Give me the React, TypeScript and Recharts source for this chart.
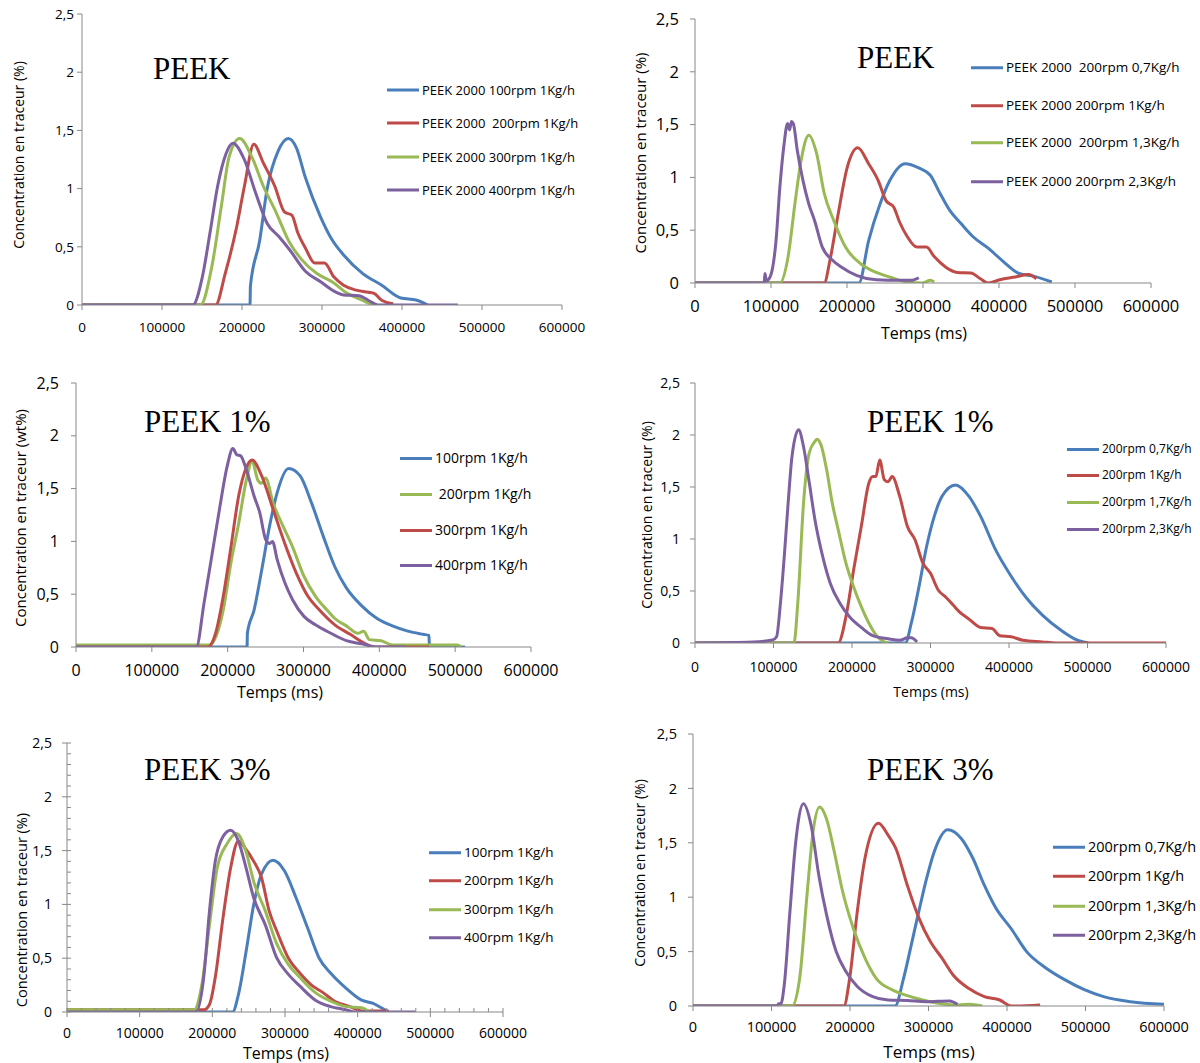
import React from 'react'
import { LineChart, Line, XAxis, YAxis } from 'recharts'

type Pt = [number, number]

const BLUE = '#4A7EBB'
const RED = '#BE4B48'
const GREEN = '#98B954'
const PURPLE = '#7D60A0'
const AXIS = '#888888'
const FONT = '"Open Sans", sans-serif'

const X_TICKS = [0, 100000, 200000, 300000, 400000, 500000, 600000]
const Y_TICKS = [0, 0.5, 1, 1.5, 2, 2.5]
const MINOR_X = [0, 20000, 40000, 60000, 80000, 100000, 120000, 140000, 160000, 180000, 200000, 220000, 240000, 260000, 280000, 300000, 320000, 340000, 360000, 380000, 400000, 420000, 440000, 460000, 480000, 500000, 520000, 540000, 560000, 580000, 600000]
const MINOR_Y = [0, 0.1, 0.2, 0.3, 0.4, 0.5, 0.6, 0.7, 0.8, 0.9, 1, 1.1, 1.2, 1.3, 1.4, 1.5, 1.6, 1.7, 1.8, 1.9, 2, 2.1, 2.2, 2.3, 2.4, 2.5]

const Y_LABEL = 'Concentration en traceur (%)'
const Y_LABEL_WT = 'Concentration en traceur (wt%)'
const X_LABEL = 'Temps (ms)'

// PEEK, 1 kg/h, screw speed
const P1_NAMES = ['PEEK 2000 100rpm 1Kg/h', 'PEEK 2000  200rpm 1Kg/h', 'PEEK 2000 300rpm 1Kg/h', 'PEEK 2000 400rpm 1Kg/h']
const P1_BLUE: Pt[] = [[0, 0], [210000, 0], [210500, 0.16], [222000, 0.55], [231500, 1.0], [245000, 1.32], [258000, 1.43], [268000, 1.35], [279000, 1.1], [298000, 0.76], [312600, 0.56], [327000, 0.43], [351000, 0.27], [374700, 0.17], [398600, 0.06], [417700, 0.043], [432000, 0]]
const P1_RED: Pt[] = [[0, 0], [167000, 0], [179000, 0.27], [193300, 0.67], [203000, 1.02], [214800, 1.38], [226700, 1.22], [241000, 1.02], [253000, 0.8], [262500, 0.77], [269700, 0.62], [279200, 0.49], [291000, 0.36], [303000, 0.36], [315000, 0.24], [327000, 0.17], [341300, 0.13], [358000, 0.11], [365000, 0.1], [374700, 0.04], [389000, 0.01]]
const P1_GREEN: Pt[] = [[0, 0], [148000, 0], [162300, 0.33], [174200, 0.85], [183800, 1.27], [197100, 1.43], [212400, 1.27], [226700, 1.02], [241000, 0.82], [260000, 0.53], [274600, 0.39], [293600, 0.27], [312600, 0.2], [331700, 0.1], [351000, 0.04], [362700, 0]]
const P1_PURPLE: Pt[] = [[0, 0], [138500, 0], [150400, 0.24], [160000, 0.62], [169500, 1.02], [180000, 1.3], [188600, 1.39], [202900, 1.25], [217200, 0.96], [231500, 0.7], [245800, 0.59], [260000, 0.47], [279200, 0.29], [298300, 0.2], [317400, 0.11], [327000, 0.086], [346000, 0.08], [360400, 0.03], [370000, 0], [470000, 0]]

// PEEK, 200 rpm, feed rate
const P2_NAMES = ['PEEK 2000  200rpm 0,7Kg/h', 'PEEK 2000 200rpm 1Kg/h', 'PEEK 2000  200rpm 1,3Kg/h', 'PEEK 2000 200rpm 2,3Kg/h']
const P2_BLUE: Pt[] = [[0, 0], [215700, 0], [228400, 0.4], [243600, 0.75], [256300, 0.97], [276600, 1.13], [294400, 1.09], [309600, 1.02], [322300, 0.85], [335000, 0.69], [350300, 0.56], [365500, 0.44], [385800, 0.33], [406100, 0.2], [426400, 0.09], [446700, 0.063], [469500, 0.01]]
const P2_RED: Pt[] = [[0, 0], [170000, 0], [177700, 0.22], [187800, 0.63], [200500, 1.1], [214200, 1.28], [228400, 1.13], [241100, 0.97], [251300, 0.78], [261400, 0.72], [269000, 0.58], [279200, 0.44], [291900, 0.34], [304600, 0.34], [314700, 0.25], [330000, 0.15], [345200, 0.1], [363000, 0.095], [375600, 0.04], [385800, 0], [401000, 0.03], [421300, 0.057], [439100, 0.08], [449200, 0.04]]
const P2_GREEN: Pt[] = [[0, 0], [111700, 0], [121800, 0.22], [132000, 0.78], [139600, 1.16], [149700, 1.4], [159900, 1.23], [170000, 0.85], [182700, 0.59], [198000, 0.34], [218300, 0.18], [238600, 0.1], [258900, 0.05], [279200, 0.01], [299500, 0], [309600, 0.025], [314700, 0.01]]
const P2_PURPLE: Pt[] = [[0, 0], [91000, 0], [92000, 0.09], [94000, 0.02], [99000, 0.06], [106600, 0.4], [111700, 0.91], [116800, 1.29], [121800, 1.51], [124500, 1.45], [126900, 1.53], [129400, 1.51], [134500, 1.26], [142100, 0.97], [149700, 0.75], [157400, 0.59], [167500, 0.34], [180200, 0.22], [192900, 0.15], [213200, 0.07], [238600, 0.03], [269000, 0.025], [284300, 0.025], [294400, 0.05]]

// PEEK 1%, 1 kg/h, screw speed
const P3_NAMES = ['100rpm 1Kg/h', ' 200rpm 1Kg/h', '300rpm 1Kg/h', '400rpm 1Kg/h']
const P3_BLUE: Pt[] = [[0, 0], [225600, 0], [226000, 0.13], [234800, 0.35], [244900, 0.73], [255100, 1.14], [265200, 1.46], [280400, 1.69], [295600, 1.62], [310800, 1.36], [326000, 1.05], [341300, 0.76], [356500, 0.56], [376800, 0.39], [397000, 0.27], [417300, 0.2], [437600, 0.15], [457900, 0.12], [465500, 0.11], [466000, 0], [513000, 0]]
const P3_GREEN: Pt[] = [[0, 0.02], [176500, 0.02], [194200, 0.35], [204400, 0.8], [214500, 1.17], [224600, 1.58], [232200, 1.76], [239800, 1.58], [244900, 1.55], [250000, 1.6], [260100, 1.36], [275300, 1.11], [285400, 0.95], [300600, 0.67], [315800, 0.48], [331000, 0.35], [341300, 0.27], [356500, 0.2], [371700, 0.13], [379300, 0.15], [386900, 0.07], [402100, 0.06], [417300, 0.02], [503500, 0.02], [508000, 0]]
const P3_RED: Pt[] = [[0, 0], [174000, 0], [184100, 0.13], [194200, 0.48], [204400, 0.95], [214500, 1.43], [224600, 1.7], [232200, 1.77], [244900, 1.62], [260100, 1.3], [275300, 0.98], [290500, 0.7], [305800, 0.48], [321000, 0.35], [341300, 0.21], [361600, 0.12], [381800, 0.03], [392000, 0], [465500, 0]]
const P3_PURPLE: Pt[] = [[0, 0], [158700, 0], [168900, 0.42], [179000, 0.86], [189100, 1.3], [199300, 1.71], [206900, 1.88], [212000, 1.82], [217100, 1.81], [224600, 1.68], [234800, 1.43], [242400, 1.27], [250000, 1.02], [255100, 0.98], [259100, 1.0], [265200, 0.83], [275300, 0.61], [285400, 0.45], [300600, 0.29], [315800, 0.21], [336100, 0.13], [356500, 0.06], [376800, 0.03], [397000, 0], [435000, 0]]

// PEEK 1%, 200 rpm, feed rate
const P4_NAMES = ['200rpm 0,7Kg/h', '200rpm 1Kg/h', '200rpm 1,7Kg/h', '200rpm 2,3Kg/h']
const P4_BLUE: Pt[] = [[0, 0], [268000, 0], [275500, 0.19], [285300, 0.54], [295100, 0.93], [304900, 1.22], [314700, 1.41], [331900, 1.52], [349000, 1.41], [363700, 1.22], [383300, 0.89], [402900, 0.64], [422500, 0.43], [442200, 0.27], [466700, 0.12], [486300, 0.03], [501000, 0]]
const P4_RED: Pt[] = [[0, 0], [182400, 0], [192200, 0.25], [202000, 0.7], [211800, 1.12], [221600, 1.54], [226500, 1.6], [230400, 1.6], [235300, 1.76], [241200, 1.57], [246100, 1.55], [251000, 1.6], [260800, 1.41], [270600, 1.12], [280400, 0.99], [290200, 0.77], [300000, 0.67], [309800, 0.51], [319600, 0.44], [329400, 0.36], [336800, 0.3], [349000, 0.23], [363700, 0.15], [378400, 0.14], [388200, 0.07], [402900, 0.06], [417600, 0.026], [442200, 0.01], [460000, 0], [600000, 0]]
const P4_GREEN: Pt[] = [[0, 0], [126000, 0], [130900, 0.38], [138200, 1.34], [145600, 1.83], [152900, 1.94], [155400, 1.96], [160300, 1.91], [167600, 1.67], [175000, 1.34], [182400, 1.09], [192200, 0.77], [202000, 0.54], [211800, 0.35], [221600, 0.19], [231400, 0.07], [241200, 0.01], [246100, 0]]
const P4_PURPLE: Pt[] = [[0, 0], [74500, 0.01], [99000, 0.03], [103900, 0.06], [108800, 0.38], [113700, 0.83], [118600, 1.34], [123500, 1.79], [131900, 2.05], [138200, 1.89], [145600, 1.54], [152900, 1.18], [162700, 0.83], [172500, 0.57], [184800, 0.38], [197100, 0.25], [211800, 0.15], [226500, 0.07], [246100, 0.04], [260800, 0.026], [270600, 0.05], [275500, 0.05], [282800, 0.01]]

// PEEK 3%, 1 kg/h, screw speed
const P5_NAMES = ['100rpm 1Kg/h', '200rpm 1Kg/h', '300rpm 1Kg/h', '400rpm 1Kg/h']
const P5_BLUE: Pt[] = [[0, 0], [227900, 0], [235800, 0.16], [246400, 0.56], [257000, 1.0], [267600, 1.28], [283500, 1.41], [299400, 1.31], [315300, 1.06], [331200, 0.78], [347100, 0.5], [363000, 0.36], [384200, 0.22], [405400, 0.11], [421300, 0.08], [437200, 0.02], [442500, 0]]
const P5_RED: Pt[] = [[0, 0.02], [177500, 0.02], [188100, 0.02], [196100, 0.07], [204000, 0.32], [214600, 0.87], [225200, 1.34], [235800, 1.59], [246400, 1.51], [257000, 1.4], [267600, 1.25], [278200, 0.94], [288800, 0.75], [304700, 0.5], [320600, 0.36], [336500, 0.25], [352400, 0.18], [368300, 0.1], [389500, 0.05], [405400, 0.01], [442500, 0.01]]
const P5_GREEN: Pt[] = [[0, 0.02], [174900, 0.02], [185500, 0.25], [196100, 0.81], [206700, 1.34], [219900, 1.56], [233200, 1.66], [246400, 1.49], [257000, 1.21], [272900, 0.94], [288800, 0.63], [304700, 0.44], [320600, 0.32], [341800, 0.18], [363000, 0.1], [384200, 0.05], [405400, 0.04], [416000, 0]]
const P5_PURPLE: Pt[] = [[0, 0], [177500, 0], [188100, 0.32], [196100, 0.94], [204000, 1.4], [214600, 1.63], [225200, 1.69], [235800, 1.59], [246400, 1.34], [257000, 1.06], [272900, 0.81], [288800, 0.5], [304700, 0.35], [320600, 0.24], [341800, 0.11], [363000, 0.05], [384200, 0.02], [394800, 0], [479600, 0]]

// PEEK 3%, 200 rpm, feed rate
const P6_NAMES = ['200rpm 0,7Kg/h', '200rpm 1Kg/h', '200rpm 1,3Kg/h', '200rpm 2,3Kg/h']
const P6_BLUE: Pt[] = [[0, 0], [257400, 0], [268100, 0.25], [278000, 0.56], [287700, 0.87], [297500, 1.17], [307400, 1.42], [324500, 1.62], [341700, 1.54], [356400, 1.36], [371100, 1.11], [385800, 0.9], [405400, 0.71], [425000, 0.5], [449500, 0.35], [474000, 0.24], [498500, 0.15], [523000, 0.086], [557400, 0.04], [600000, 0.015]]
const P6_RED: Pt[] = [[0, 0], [192200, 0], [199500, 0.25], [209300, 0.87], [219100, 1.36], [236300, 1.68], [248500, 1.57], [258300, 1.45], [273000, 1.11], [287700, 0.81], [302500, 0.59], [317200, 0.44], [331900, 0.28], [351500, 0.16], [371100, 0.086], [390700, 0.055], [405400, 0], [442200, 0.01]]
const P6_GREEN: Pt[] = [[0, 0], [126000, 0], [135800, 0.25], [145600, 1.05], [152900, 1.6], [161300, 1.83], [170100, 1.72], [179900, 1.42], [189700, 1.08], [204400, 0.71], [219100, 0.44], [233800, 0.25], [253400, 0.15], [273000, 0.095], [292600, 0.055], [312300, 0.025], [331900, 0.01], [351500, 0.015], [368600, 0]]
const P6_PURPLE: Pt[] = [[0, 0], [107000, 0], [109000, 0.02], [112000, 0.02], [116200, 0.19], [123500, 0.87], [130900, 1.51], [140700, 1.86], [150500, 1.66], [160300, 1.2], [170100, 0.84], [182400, 0.5], [194600, 0.32], [209300, 0.18], [228900, 0.086], [248500, 0.055], [273000, 0.05], [297500, 0.04], [326900, 0.046], [336800, 0.015]]

type Series = { name: string; color: string; pts: Pt[] }

type Panel = {
  x0: number; x1: number; yTop: number; y0: number
  tickFont: number; xGap: number; yGap: number
  series: Series[]
  title: string; titleX: number; titleY: number
  yLabel: string; yLabelX: number; yLabelY: number; yLabelFont: number
  xLabelX?: number; xLabelY?: number; xLabelFont?: number
  legendX: number; legendRows: number[]; legendFont: number
  minor?: boolean
}

const mk = (names: string[], colors: string[], data: Pt[][]): Series[] =>
  names.map((name, i) => ({ name, color: colors[i], pts: data[i] }))

const PANELS: Panel[] = [
  {
    x0: 82, x1: 562, yTop: 14, y0: 305, tickFont: 13.5, xGap: 12, yGap: 8,
    series: mk(P1_NAMES, [BLUE, RED, GREEN, PURPLE], [P1_BLUE, P1_RED, P1_GREEN, P1_PURPLE]),
    title: 'PEEK', titleX: 153, titleY: 68,
    yLabel: Y_LABEL, yLabelX: 19, yLabelY: 155, yLabelFont: 14,
    legendX: 387, legendRows: [90, 123, 157, 190], legendFont: 13,
  },
  {
    x0: 695, x1: 1151, yTop: 19, y0: 283, tickFont: 16.5, xGap: 12, yGap: 16,
    series: mk(P2_NAMES, [BLUE, RED, GREEN, PURPLE], [P2_BLUE, P2_RED, P2_GREEN, P2_PURPLE]),
    title: 'PEEK', titleX: 857, titleY: 57,
    yLabel: Y_LABEL, yLabelX: 640, yLabelY: 153, yLabelFont: 15,
    xLabelX: 924, xLabelY: 333, xLabelFont: 16,
    legendX: 971, legendRows: [68, 106, 143, 182], legendFont: 13.5,
  },
  {
    x0: 76, x1: 531, yTop: 383, y0: 647, tickFont: 16, xGap: 13, yGap: 17,
    series: mk(P3_NAMES, [BLUE, GREEN, RED, PURPLE], [P3_BLUE, P3_GREEN, P3_RED, P3_PURPLE]),
    title: 'PEEK 1%', titleX: 144, titleY: 421,
    yLabel: Y_LABEL_WT, yLabelX: 20, yLabelY: 518, yLabelFont: 15,
    xLabelX: 280, xLabelY: 692, xLabelFont: 16,
    legendX: 400, legendRows: [458, 494, 530, 565], legendFont: 14,
  },
  {
    x0: 695, x1: 1166, yTop: 383, y0: 643, tickFont: 14, xGap: 14, yGap: 15,
    series: mk(P4_NAMES, [BLUE, RED, GREEN, PURPLE], [P4_BLUE, P4_RED, P4_GREEN, P4_PURPLE]),
    title: 'PEEK 1%', titleX: 867, titleY: 421,
    yLabel: Y_LABEL, yLabelX: 647, yLabelY: 515, yLabelFont: 14,
    xLabelX: 931, xLabelY: 692, xLabelFont: 14,
    legendX: 1067, legendRows: [449, 475, 502, 529], legendFont: 12,
  },
  {
    x0: 67, x1: 503, yTop: 743, y0: 1012, tickFont: 14, xGap: 11, yGap: 15,
    series: mk(P5_NAMES, [BLUE, RED, GREEN, PURPLE], [P5_BLUE, P5_RED, P5_GREEN, P5_PURPLE]),
    title: 'PEEK 3%', titleX: 144, titleY: 769,
    yLabel: Y_LABEL, yLabelX: 22, yLabelY: 910, yLabelFont: 14.5,
    xLabelX: 286, xLabelY: 1053, xLabelFont: 16,
    legendX: 429, legendRows: [853, 881, 910, 938], legendFont: 13.5,
    minor: true,
  },
  {
    x0: 693, x1: 1164, yTop: 734, y0: 1006, tickFont: 14.5, xGap: 11, yGap: 16,
    series: mk(P6_NAMES, [BLUE, RED, GREEN, PURPLE], [P6_BLUE, P6_RED, P6_GREEN, P6_PURPLE]),
    title: 'PEEK 3%', titleX: 867, titleY: 769,
    yLabel: Y_LABEL, yLabelX: 640, yLabelY: 873, yLabelFont: 14,
    xLabelX: 929, xLabelY: 1051, xLabelFont: 17,
    legendX: 1053, legendRows: [847, 876, 906, 935], legendFont: 14.5,
  },
]

const fmtY = (v: number) => String(v).replace('.', ',')

const LEFT_W = 70
const TOP_M = 12

function TracerPanel({ p }: { p: Panel }) {
  const left = p.x0 - LEFT_W
  const top = p.yTop - TOP_M
  const width = p.x1 - p.x0 + LEFT_W + 30
  const height = p.y0 - p.yTop + TOP_M + 40
  const axisY = TOP_M + (p.y0 - p.yTop)
  const txt = { fontSize: p.tickFont, fill: '#000', fontFamily: FONT }

  // major ticks cross outward with a label, minor ticks point inward
  const yTick = (props: any) => {
    const v = props.payload.value
    const y = props.y
    const major = Y_TICKS.includes(v)
    if (!major) return <line x1={LEFT_W} x2={LEFT_W + 4} y1={y} y2={y} stroke={AXIS} />
    return (
      <g>
        <line x1={LEFT_W - 5} x2={LEFT_W + (p.minor ? 4 : 0)} y1={y} y2={y} stroke={AXIS} />
        <text x={LEFT_W - p.yGap} y={y} dy="0.355em" textAnchor="end" {...txt}>{fmtY(v)}</text>
      </g>
    )
  }
  const xTick = (props: any) => {
    const v = props.payload.value
    const x = props.x
    const major = X_TICKS.includes(v)
    if (!major) return <line x1={x} x2={x} y1={axisY - 4} y2={axisY} stroke={AXIS} />
    return (
      <g>
        <line x1={x} x2={x} y1={axisY - (p.minor ? 4 : 0)} y2={axisY + 5} stroke={AXIS} />
        <text x={x} y={axisY + 5 + p.xGap} dy="0.71em" textAnchor="middle" {...txt}>{v}</text>
      </g>
    )
  }

  return (
    <>
      <div style={{ position: 'absolute', left, top }}>
        <LineChart width={width} height={height} margin={{ top: TOP_M, right: 30, bottom: 0, left: 0 }}>
          <XAxis type="number" dataKey="x" domain={[0, 600000]} ticks={p.minor ? MINOR_X : X_TICKS} height={40}
            tick={xTick} tickLine={false} axisLine={{ stroke: AXIS }} interval={0} allowDataOverflow />
          <YAxis type="number" domain={[0, 2.5]} ticks={p.minor ? MINOR_Y : Y_TICKS} width={LEFT_W}
            tick={yTick} tickLine={false} axisLine={{ stroke: AXIS }} interval={0} allowDataOverflow />
          {p.series.map((s) => (
            <Line key={s.name} data={s.pts.map(([x, y]) => ({ x, y }))} dataKey="y" type="monotone"
              stroke={s.color} strokeWidth={3} dot={false} activeDot={false} isAnimationActive={false} />
          ))}
        </LineChart>
      </div>
      <div style={{ position: 'absolute', left: p.titleX, top: p.titleY, transform: 'translateY(-50%)',
        fontFamily: '"Liberation Serif", "Times New Roman", serif', fontSize: 31, lineHeight: 1, whiteSpace: 'pre' }}>
        {p.title}
      </div>
      <div style={{ position: 'absolute', left: p.yLabelX, top: p.yLabelY, transform: 'translate(-50%, -50%) rotate(-90deg)',
        fontFamily: FONT, fontSize: p.yLabelFont, lineHeight: 1, whiteSpace: 'pre' }}>
        {p.yLabel}
      </div>
      {p.xLabelX !== undefined && (
        <div style={{ position: 'absolute', left: p.xLabelX, top: p.xLabelY, transform: 'translate(-50%, -50%)',
          fontFamily: FONT, fontSize: p.xLabelFont, lineHeight: 1, whiteSpace: 'pre' }}>
          {X_LABEL}
        </div>
      )}
      {p.series.map((s, i) => (
        <div key={s.name} style={{ position: 'absolute', left: p.legendX, top: p.legendRows[i], transform: 'translateY(-50%)',
          display: 'flex', alignItems: 'center', fontFamily: FONT, fontSize: p.legendFont, lineHeight: 1, whiteSpace: 'pre' }}>
          <span style={{ display: 'inline-block', width: 32, height: 3, background: s.color, marginRight: 3 }} />
          <span>{s.name}</span>
        </div>
      ))}
    </>
  )
}

export default function App() {
  return (
    <div style={{ position: 'absolute', left: 0, top: 0, width: 1200, height: 1063, background: '#fff', overflow: 'hidden' }}>
      {PANELS.map((p, i) => (
        <TracerPanel key={i} p={p} />
      ))}
    </div>
  )
}
